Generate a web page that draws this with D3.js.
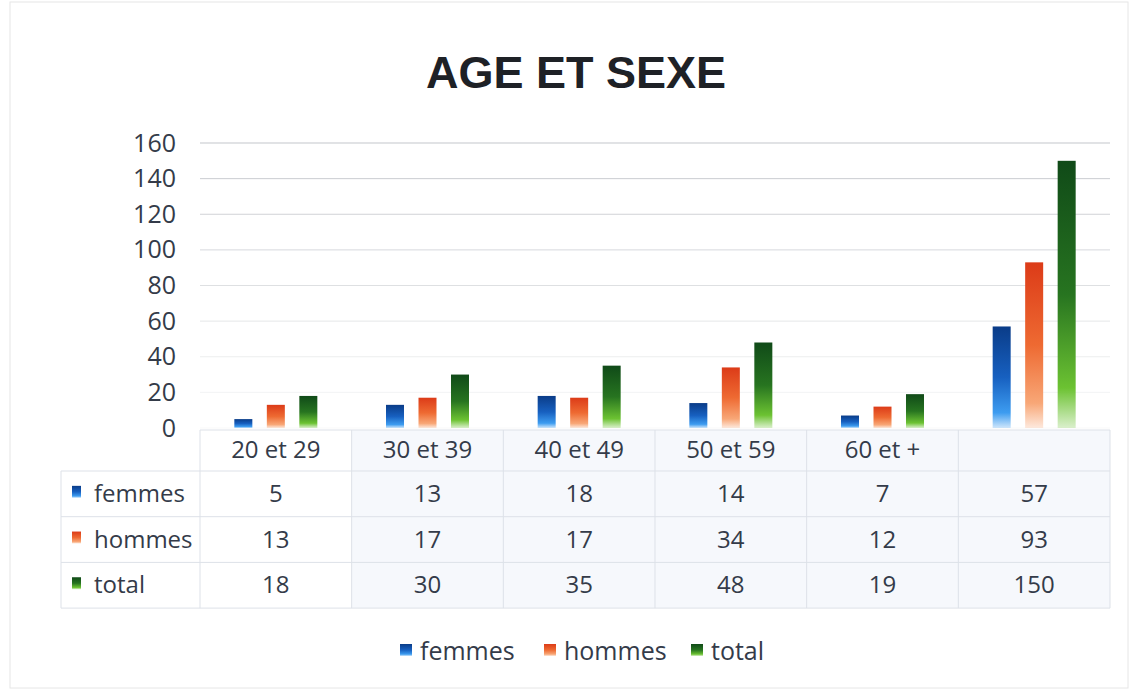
<!DOCTYPE html>
<html>
<head>
<meta charset="utf-8">
<script src="https://cdn.jsdelivr.net/npm/d3@7"></script>
<style>
  body { margin: 0; background: #ffffff; }
  text { font-family: "Open Sans", "Noto Sans", sans-serif; }
</style>
</head>
<body>
<div id="chart"></div>
<script>
// data (table under the chart)
var categories = ["20 et 29", "30 et 39", "40 et 49", "50 et 59", "60 et +", ""];
var seriesNames = ["femmes", "hommes", "total"];
var femmes = [5, 13, 18, 14, 7, 57];
var hommes = [13, 17, 17, 34, 12, 93];
var total = [18, 30, 35, 48, 19, 150];
var yTicks = [0, 20, 40, 60, 80, 100, 120, 140, 160];

var values = { femmes: femmes, hommes: hommes, total: total };

var colors = {
    femmes: ["#0a3c88", "#1760c0", "#3d9cf0"],
    hommes: ["#dc3b18", "#ee6a32", "#f8a777"],
    total: ["#104a18", "#277420", "#6cc232"]
};

var textColor = '#343b49';

var width = 1136, height = 692;
var margin = { top: 143, right: 26, left: 200 };
var baseline = 428;

var svg = d3.select('#chart')
    .append('svg')
    .attr('width', width)
    .attr('height', height);

// gradients for the bars
var defs = svg.append('defs');
seriesNames.forEach(function (s) {
    var g = defs.append('linearGradient')
        .attr('id', 'grad-' + s)
        .attr('x1', 0).attr('y1', 0).attr('x2', 0).attr('y2', 1);
    g.append('stop').attr('offset', '0%').attr('stop-color', colors[s][0]);
    g.append('stop').attr('offset', '50%').attr('stop-color', colors[s][1]);
    g.append('stop').attr('offset', '85%').attr('stop-color', colors[s][2]);
    g.append('stop').attr('offset', '100%').attr('stop-color', colors[s][2]).attr('stop-opacity', 0.25);
});

// faint frame of the scan
svg.append('rect')
    .attr('x', 10).attr('y', 2)
    .attr('width', 1118).attr('height', 686)
    .attr('fill', 'none')
    .attr('stroke', '#e6e6e6');

// title
svg.append('text')
    .attr('x', 576)
    .attr('y', 88)
    .attr('text-anchor', 'middle')
    .style('font-family', '"Liberation Sans", Arial, sans-serif')
    .style('font-weight', 'bold')
    .style('font-size', '45px')
    .attr('fill', '#1e2126')
    .text('AGE ET SEXE');

var x = d3.scaleBand()
    .domain(categories)
    .range([margin.left, width - margin.right]);

var y = d3.scaleLinear()
    .domain([0, 160])
    .range([baseline, margin.top]);

var x1 = d3.scaleBand()
    .domain(seriesNames)
    .range([0, 83])
    .paddingInner(0.446);

// gridlines (top ones show more in the scan)
var gridOpacity = d3.scaleLinear().domain([0, 160]).range([0.08, 0.8]);
svg.append('g')
    .selectAll('line')
    .data(yTicks)
    .enter()
    .append('line')
    .attr('x1', margin.left)
    .attr('x2', width - margin.right)
    .attr('y1', function (d) { return y(d); })
    .attr('y2', function (d) { return y(d); })
    .attr('stroke', '#b4b8be')
    .attr('stroke-opacity', function (d) { return gridOpacity(d); });

// y axis labels
var yAxis = svg.append('g')
    .attr('transform', 'translate(' + (margin.left - 24) + ',0)')
    .call(d3.axisLeft(y).tickValues(yTicks).tickSize(0).tickPadding(0));
yAxis.select('.domain').remove();
yAxis.selectAll('text')
    .style('font-family', '"Open Sans", "Noto Sans", sans-serif')
    .style('font-size', '25px')
    .attr('fill', textColor);

// bars
var groups = svg.append('g')
    .selectAll('g')
    .data(categories)
    .enter()
    .append('g')
    .attr('transform', function (d) {
        return 'translate(' + (x(d) + x.bandwidth() / 2 - 41.5) + ',0)';
    });

groups.selectAll('rect')
    .data(function (d, i) {
        return seriesNames.map(function (s) { return { s: s, v: values[s][i] }; });
    })
    .enter()
    .append('rect')
    .attr('x', function (d) { return x1(d.s); })
    .attr('y', function (d) { return y(d.v); })
    .attr('width', x1.bandwidth())
    .attr('height', function (d) { return baseline - y(d.v); })
    .attr('fill', function (d) { return 'url(#grad-' + d.s + ')'; });

// data table
var rowTop = 471, rowH = 45.7, tableLeft = 61, tableRight = width - margin.right;
var lineColor = '#dde1e8';
var table = svg.append('g');

// light tint on value columns
table.append('rect')
    .attr('x', x(categories[1]))
    .attr('y', 430)
    .attr('width', tableRight - x(categories[1]))
    .attr('height', rowTop + rowH * 3 - 430)
    .attr('fill', '#f6f8fc');

// horizontal lines
table.append('line')
    .attr('x1', margin.left).attr('x2', tableRight)
    .attr('y1', 430).attr('y2', 430)
    .attr('stroke', lineColor);
table.selectAll('line.h')
    .data([0, 1, 2, 3])
    .enter()
    .append('line')
    .attr('class', 'h')
    .attr('x1', tableLeft).attr('x2', tableRight)
    .attr('y1', function (d) { return rowTop + d * rowH; })
    .attr('y2', function (d) { return rowTop + d * rowH; })
    .attr('stroke', lineColor);

// vertical lines
var vx = categories.map(function (c) { return x(c); }).concat([tableRight]);
table.selectAll('line.v')
    .data(vx)
    .enter()
    .append('line')
    .attr('class', 'v')
    .attr('x1', function (d) { return d; })
    .attr('x2', function (d) { return d; })
    .attr('y1', 430)
    .attr('y2', rowTop + rowH * 3)
    .attr('stroke', lineColor);
table.append('line')
    .attr('x1', tableLeft).attr('x2', tableLeft)
    .attr('y1', rowTop).attr('y2', rowTop + rowH * 3)
    .attr('stroke', lineColor);

// header labels
table.selectAll('text.cat')
    .data(categories)
    .enter()
    .append('text')
    .attr('class', 'cat')
    .attr('x', function (d) { return x(d) + x.bandwidth() / 2; })
    .attr('y', 458)
    .attr('text-anchor', 'middle')
    .style('font-size', '24px')
    .attr('fill', textColor)
    .text(function (d) { return d; });

// rows
seriesNames.forEach(function (s, r) {
    var cy = rowTop + rowH * r + rowH / 2;
    table.append('rect')
        .attr('x', 72).attr('y', cy - 8)
        .attr('width', 9).attr('height', 12)
        .attr('fill', 'url(#grad-' + s + ')');
    table.append('text')
        .attr('x', 94)
        .attr('y', cy + 8)
        .style('font-size', '24px')
        .attr('fill', textColor)
        .text(s);
    table.selectAll('text.v' + r)
        .data(values[s])
        .enter()
        .append('text')
        .attr('class', 'v' + r)
        .attr('x', function (d, i) { return x(categories[i]) + x.bandwidth() / 2; })
        .attr('y', cy + 8)
        .attr('text-anchor', 'middle')
        .style('font-size', '24px')
        .attr('fill', textColor)
        .text(function (d) { return d; });
});

// legend
var legendX = [400, 544, 691];
var legend = svg.append('g');
seriesNames.forEach(function (s, i) {
    legend.append('rect')
        .attr('x', legendX[i]).attr('y', 644)
        .attr('width', 12).attr('height', 12)
        .attr('fill', 'url(#grad-' + s + ')');
    legend.append('text')
        .attr('x', legendX[i] + 20)
        .attr('y', 660)
        .style('font-size', '25px')
        .attr('fill', textColor)
        .text(s);
});
</script>
</body>
</html>
